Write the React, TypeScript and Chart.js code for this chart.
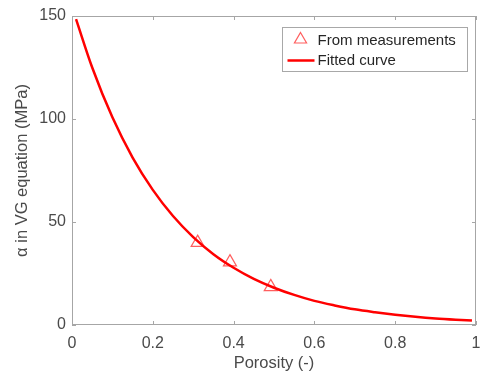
import React, { useEffect, useRef } from "react";
import { Chart, registerables } from "chart.js";

Chart.register(...registerables);

// Fitted curve
const curveX = [0.01, 0.05, 0.1, 0.15, 0.2, 0.25, 0.3, 0.35, 0.4, 0.45, 0.5, 0.55, 0.6, 0.65, 0.7, 0.75, 0.8, 0.85, 0.9, 0.95, 0.99];
const curveY = [148.5, 125.0, 100.8, 81.3, 65.6, 52.9, 42.7, 34.4, 27.8, 22.4, 18.1, 14.6, 11.7, 9.5, 7.6, 6.2, 5.0, 4.0, 3.2, 2.6, 2.2];

// Measurements
const measX = [0.311, 0.391, 0.492];
const measY = [40.0, 30.5, 18.5];

const xTicks = [0, 0.2, 0.4, 0.6, 0.8, 1];
const yTicks = [0, 50, 100, 150];
const seriesLabels = ["From measurements", "Fitted curve"];
const xTitle = "Porosity (-)";
const yTitle = "\u03b1 in VG equation (MPa)";

const FONT = '"Liberation Sans", Arial, Helvetica, sans-serif';
const AXIS_COLOR = "#a6a6a6";
const TEXT_COLOR = "#4a4a4a";
const LINE_COLOR = "#ff0000";
const MARKER_COLOR = "rgba(255,40,40,0.75)";

const boxPlugin = {
  id: "matlabBox",
  beforeDatasetsDraw(chart: any) {
    const { ctx, chartArea: a, scales } = chart;
    ctx.save();
    ctx.strokeStyle = AXIS_COLOR;
    ctx.lineWidth = 1;
    ctx.strokeRect(Math.round(a.left) + 0.5, Math.round(a.top) + 0.5, Math.round(a.width) - 1, Math.round(a.height) - 1);
    const tl = 4;
    ctx.beginPath();
    xTicks.forEach((v) => {
      const px = Math.round(scales.x.getPixelForValue(v)) + 0.5;
      ctx.moveTo(px, a.bottom);
      ctx.lineTo(px, a.bottom - tl);
      ctx.moveTo(px, a.top);
      ctx.lineTo(px, a.top + tl);
    });
    yTicks.forEach((v) => {
      const py = Math.round(scales.y.getPixelForValue(v)) + 0.5;
      ctx.moveTo(a.left, py);
      ctx.lineTo(a.left + tl, py);
      ctx.moveTo(a.right, py);
      ctx.lineTo(a.right - tl, py);
    });
    ctx.stroke();
    ctx.restore();
  },
  afterDraw(chart: any) {
    const { ctx, chartArea: a } = chart;
    const w = 185;
    const h = 44;
    const left = Math.round(a.right - 194) + 0.5;
    const top = Math.round(a.top + 11) + 0.5;
    ctx.save();
    ctx.fillStyle = "#ffffff";
    ctx.fillRect(left, top, w, h);
    ctx.strokeStyle = "#a8a8a8";
    ctx.lineWidth = 1;
    ctx.strokeRect(left, top, w, h);

    const row1 = top + 12;
    const row2 = top + 33;
    // triangle marker
    const cx = left + 18;
    const r = 7;
    ctx.beginPath();
    ctx.moveTo(cx, row1 - r);
    ctx.lineTo(cx + r * 0.866, row1 + r * 0.5);
    ctx.lineTo(cx - r * 0.866, row1 + r * 0.5);
    ctx.closePath();
    ctx.strokeStyle = MARKER_COLOR;
    ctx.lineWidth = 1.2;
    ctx.stroke();
    // line
    ctx.beginPath();
    ctx.moveTo(left + 5, row2);
    ctx.lineTo(left + 32, row2);
    ctx.strokeStyle = LINE_COLOR;
    ctx.lineWidth = 2.5;
    ctx.stroke();

    ctx.fillStyle = "#262626";
    ctx.font = `15px ${FONT}`;
    ctx.textBaseline = "middle";
    ctx.textAlign = "left";
    ctx.fillText(seriesLabels[0], left + 35, row1 + 1);
    ctx.fillText(seriesLabels[1], left + 35, row2);
    ctx.restore();
  },
};

export default function App() {
  const ref = useRef<HTMLCanvasElement | null>(null);

  useEffect(() => {
    if (!ref.current) return;
    const chart = new Chart(ref.current, {
      type: "scatter",
      data: {
        datasets: [
          {
            type: "line",
            label: seriesLabels[1],
            data: curveX.map((x, i) => ({ x, y: curveY[i] })),
            borderColor: LINE_COLOR,
            borderWidth: 2.5,
            pointRadius: 0,
            fill: false,
            cubicInterpolationMode: "monotone",
            order: 0,
          } as any,
          {
            label: seriesLabels[0],
            data: measX.map((x, i) => ({ x, y: measY[i] })),
            pointStyle: "triangle",
            pointRadius: 7.5,
            pointBorderColor: MARKER_COLOR,
            pointBackgroundColor: "rgba(0,0,0,0)",
            pointBorderWidth: 1.2,
            showLine: false,
            order: 1,
          },
        ],
      },
      options: {
        animation: false,
        responsive: false,
        maintainAspectRatio: false,
        layout: { autoPadding: false, padding: { left: 0, top: 16, right: 4, bottom: 0 } },
        plugins: { legend: { display: false }, tooltip: { enabled: false } },
        scales: {
          x: {
            type: "linear",
            min: 0,
            max: 1,
            afterBuildTicks: (s: any) => {
              s.ticks = xTicks.map((v) => ({ value: v }));
            },
            afterFit: (s: any) => {
              s.height = 54;
              s.paddingLeft = 0;
              s.paddingRight = 0;
            },
            grid: { display: false, drawTicks: false },
            border: { display: false },
            ticks: {
              padding: 9,
              color: TEXT_COLOR,
              font: { family: FONT, size: 16 },
              maxRotation: 0,
              callback: (v: any) => String(Math.round(Number(v) * 10) / 10),
            },
            title: {
              display: true,
              text: xTitle,
              color: TEXT_COLOR,
              font: { family: FONT, size: 16.5 },
              padding: { top: 0, bottom: 6 },
            },
          },
          y: {
            type: "linear",
            min: 0,
            max: 150,
            afterBuildTicks: (s: any) => {
              s.ticks = yTicks.map((v) => ({ value: v }));
            },
            afterFit: (s: any) => {
              s.width = 72;
              s.paddingTop = 0;
              s.paddingBottom = 0;
            },
            grid: { display: false, drawTicks: false },
            border: { display: false },
            ticks: {
              padding: 6,
              color: TEXT_COLOR,
              font: { family: FONT, size: 16 },
              callback: (v: any) => String(v),
            },
            title: {
              display: true,
              text: yTitle,
              color: TEXT_COLOR,
              font: { family: FONT, size: 16.5 },
              padding: { top: 13, bottom: 0 },
            },
          },
        },
      },
      plugins: [boxPlugin],
    });
    return () => chart.destroy();
  }, []);

  return (
    <div style={{ position: "absolute", left: 0, top: 0, width: 480, height: 379, background: "#fff" }}>
      <canvas ref={ref} width={480} height={379} style={{ display: "block" }} />
    </div>
  );
}
